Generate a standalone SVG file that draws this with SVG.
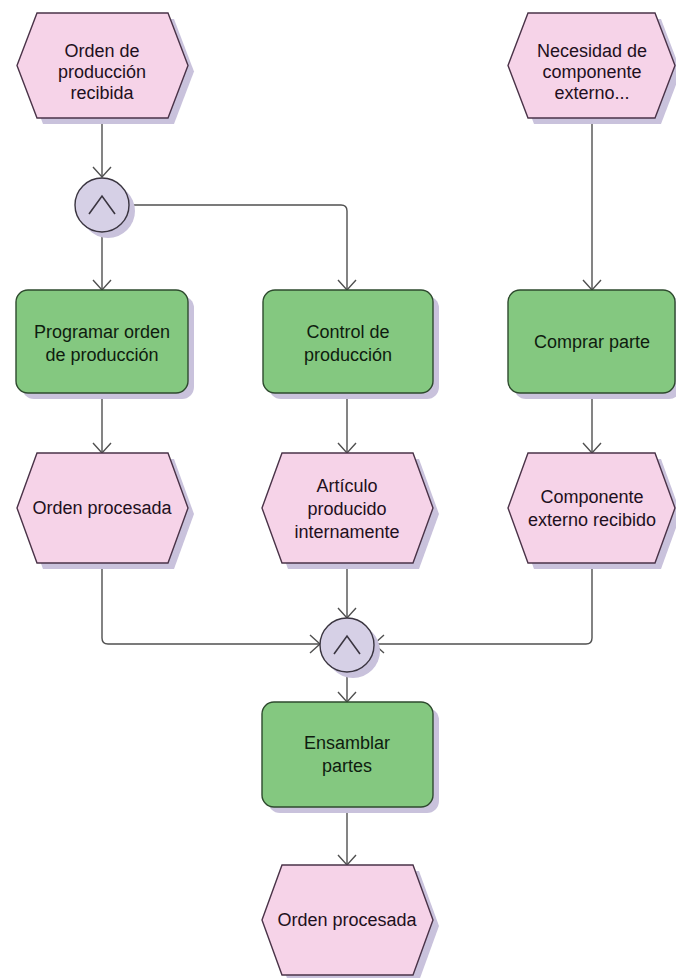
<svg xmlns="http://www.w3.org/2000/svg" width="676" height="978" viewBox="0 0 676 978">
  <style>
    .shadow { fill: #c9c2dc; stroke: none; }
    .event { fill: #f6d3e8; stroke: #4a3348; stroke-width: 1.4; }
    .func { fill: #84c880; stroke: #2e4a2e; stroke-width: 1.4; }
    .gate { fill: #d6d0e6; stroke: #3a3540; stroke-width: 1.4; }
    .gate-sym { fill: none; stroke: #3a3540; stroke-width: 1.6; }
    .edge { fill: none; stroke: #505050; stroke-width: 1.4; }
    text { font-family: "Liberation Sans", Arial, sans-serif; font-size: 18px; text-anchor: middle; }
    .ev-t { fill: #1e1020; }
    .fn-t { fill: #0f1c0f; }
  </style>
  <defs>
    <marker id="arrow" markerUnits="userSpaceOnUse" markerWidth="14" markerHeight="22" viewBox="-12 -11 14 22" refX="0" refY="0" orient="auto">
      <path d="M-10,-9 L0,0 L-10,9" fill="none" stroke="#505050" stroke-width="1.4"/>
    </marker>
  </defs>

  <!-- connectors -->
  <g id="connectors">
    <path class="edge" d="M102,118 L102,177" marker-end="url(#arrow)"/>
    <path class="edge" d="M102,232 L102,290" marker-end="url(#arrow)"/>
    <path class="edge" d="M129,205 L341,205 Q347,205 347,211 L347,290" marker-end="url(#arrow)"/>
    <path class="edge" d="M592,118 L592,290" marker-end="url(#arrow)"/>
    <path class="edge" d="M102,393 L102,453" marker-end="url(#arrow)"/>
    <path class="edge" d="M347,393 L347,453" marker-end="url(#arrow)"/>
    <path class="edge" d="M592,393 L592,453" marker-end="url(#arrow)"/>
    <path class="edge" d="M102,563 L102,638 Q102,644 108,644 L320,644" marker-end="url(#arrow)"/>
    <path class="edge" d="M347,563 L347,618" marker-end="url(#arrow)"/>
    <path class="edge" d="M592,563 L592,638 Q592,644 586,644 L374,644" marker-end="url(#arrow)"/>
    <path class="edge" d="M347,672 L347,702" marker-end="url(#arrow)"/>
    <path class="edge" d="M347,807 L347,865" marker-end="url(#arrow)"/>
  </g>

  <!-- start events -->
  <g id="ev-orden-recibida">
    <polygon class="shadow" transform="translate(6,6)" points="37,13 168,13 188,65.5 168,118 37,118 17,65.5"/>
    <polygon class="event" points="37,13 168,13 188,65.5 168,118 37,118 17,65.5"/>
    <text class="ev-t" x="102" y="57">Orden de</text>
    <text class="ev-t" x="102" y="78">producción</text>
    <text class="ev-t" x="102" y="99">recibida</text>
  </g>
  <g id="ev-necesidad">
    <polygon class="shadow" transform="translate(6,6)" points="528,13 655,13 675,65.5 655,118 528,118 508,65.5"/>
    <polygon class="event" points="528,13 655,13 675,65.5 655,118 528,118 508,65.5"/>
    <text class="ev-t" x="592" y="57">Necesidad de</text>
    <text class="ev-t" x="592" y="78">componente</text>
    <text class="ev-t" x="592" y="99">externo...</text>
  </g>

  <!-- AND split -->
  <g id="and-split">
    <circle class="shadow" cx="108" cy="211" r="27"/>
    <circle class="gate" cx="102" cy="205" r="27"/>
    <polyline class="gate-sym" points="89,214 102,196 115,214"/>
  </g>

  <!-- functions -->
  <g id="fn-programar">
    <rect class="shadow" x="22" y="296" width="172" height="103" rx="12"/>
    <rect class="func" x="16" y="290" width="172" height="103" rx="12"/>
    <text class="fn-t" x="102" y="338">Programar orden</text>
    <text class="fn-t" x="102" y="361">de producción</text>
  </g>
  <g id="fn-control">
    <rect class="shadow" x="269" y="296" width="170" height="103" rx="12"/>
    <rect class="func" x="263" y="290" width="170" height="103" rx="12"/>
    <text class="fn-t" x="348" y="338">Control de</text>
    <text class="fn-t" x="348" y="361">producción</text>
  </g>
  <g id="fn-comprar">
    <rect class="shadow" x="514" y="296" width="167" height="103" rx="12"/>
    <rect class="func" x="508" y="290" width="167" height="103" rx="12"/>
    <text class="fn-t" x="592" y="348">Comprar parte</text>
  </g>

  <!-- intermediate events -->
  <g id="ev-orden-procesada">
    <polygon class="shadow" transform="translate(6,6)" points="37,453 168,453 188,508 168,563 37,563 17,508"/>
    <polygon class="event" points="37,453 168,453 188,508 168,563 37,563 17,508"/>
    <text class="ev-t" x="102" y="514">Orden procesada</text>
  </g>
  <g id="ev-articulo">
    <polygon class="shadow" transform="translate(6,6)" points="282,453 413,453 433,508 413,563 282,563 262,508"/>
    <polygon class="event" points="282,453 413,453 433,508 413,563 282,563 262,508"/>
    <text class="ev-t" x="347" y="492">Artículo</text>
    <text class="ev-t" x="347" y="515">producido</text>
    <text class="ev-t" x="347" y="538">internamente</text>
  </g>
  <g id="ev-componente">
    <polygon class="shadow" transform="translate(6,6)" points="528,453 655,453 675,508 655,563 528,563 508,508"/>
    <polygon class="event" points="528,453 655,453 675,508 655,563 528,563 508,508"/>
    <text class="ev-t" x="592" y="503">Componente</text>
    <text class="ev-t" x="592" y="526">externo recibido</text>
  </g>

  <!-- AND join -->
  <g id="and-join">
    <circle class="shadow" cx="353" cy="651" r="27"/>
    <circle class="gate" cx="347" cy="645" r="27"/>
    <polyline class="gate-sym" points="334,654 347,636 360,654"/>
  </g>

  <g id="fn-ensamblar">
    <rect class="shadow" x="268" y="708" width="171" height="105" rx="12"/>
    <rect class="func" x="262" y="702" width="171" height="105" rx="12"/>
    <text class="fn-t" x="347" y="749">Ensamblar</text>
    <text class="fn-t" x="347" y="772">partes</text>
  </g>

  <!-- end event -->
  <g id="ev-orden-final">
    <polygon class="shadow" transform="translate(6,6)" points="282,865 413,865 433,920 413,975 282,975 262,920"/>
    <polygon class="event" points="282,865 413,865 433,920 413,975 282,975 262,920"/>
    <text class="ev-t" x="347" y="926">Orden procesada</text>
  </g>
</svg>
